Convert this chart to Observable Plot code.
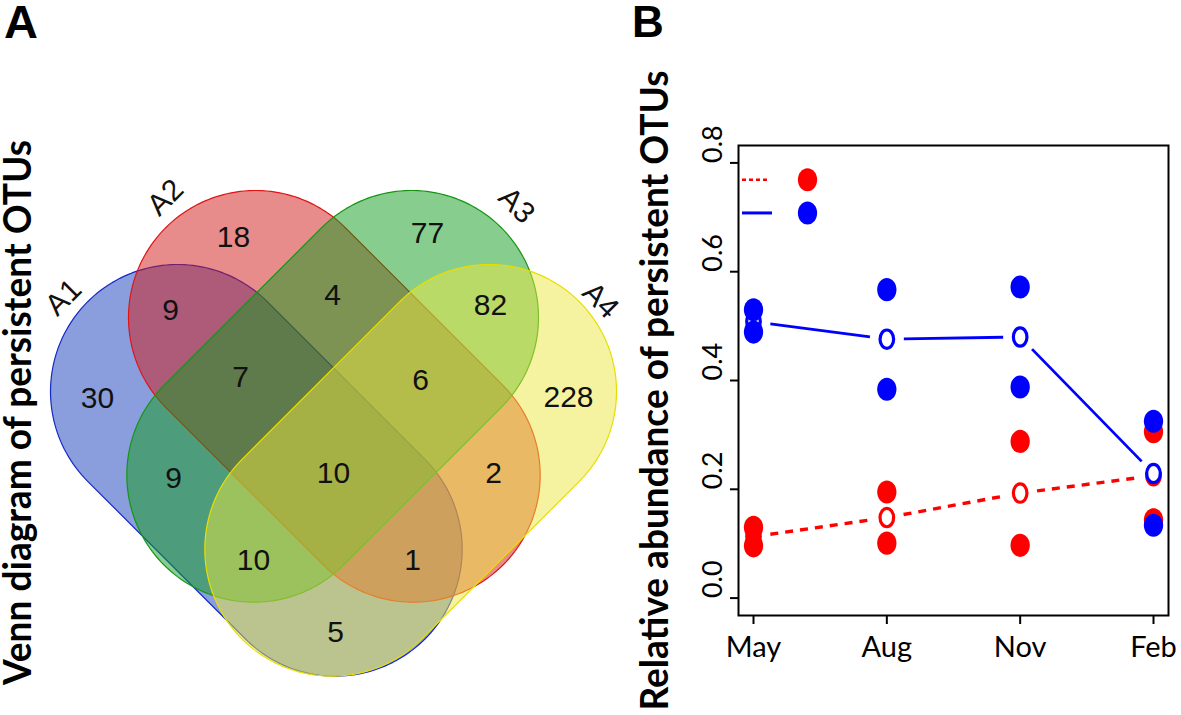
<!DOCTYPE html>
<html>
<head>
<meta charset="utf-8">
<script src="https://cdn.jsdelivr.net/npm/d3@7"></script>
<script src="https://cdn.jsdelivr.net/npm/@observablehq/plot@0.6"></script>
<style>
  body { margin: 0; background: #fff; }
  #fig { position: relative; width: 1181px; height: 715px; overflow: hidden; background: #fff; }
  .panel { position: absolute; top: 0; }
  .tag { position: absolute; font-family: "Liberation Sans", Arial, sans-serif; font-weight: bold; line-height: 1; color: #000; }
</style>
</head>
<body>
<div id="fig">
  <div class="panel" id="panelA" style="left:0px"></div>
  <div class="panel" id="panelB" style="left:620px"></div>
  <div class="tag" style="left:4px;top:-2px;font-size:47px">A</div>
  <div class="tag" style="left:632px;top:0px;font-size:44px">B</div>
</div>
<script>
// ---------------- Panel A data ----------------
const vennSets = ["A1", "A2", "A3", "A4"];
const regionCounts = [30, 18, 77, 228, 9, 7, 4, 82, 9, 10, 6, 2, 10, 1, 5];

// ---------------- Panel B data ----------------
const months = ["May", "Aug", "Nov", "Feb"];
const redValues = [[0.130, 0.096], [0.195, 0.101], [0.288, 0.097], [0.306, 0.144]];
const blueValues = [[0.530, 0.489], [0.567, 0.384], [0.572, 0.388], [0.325, 0.134]];
const redMeans = [0.113, 0.148, 0.193, 0.225];
const blueMeans = [0.508, 0.476, 0.480, 0.229];
const yTicks = [0, 0.2, 0.4, 0.6, 0.8];
const titleA = "Venn diagram of persistent OTUs";
const titleB = "Relative abundance of persistent OTUs";

// ---------------- Layout (diagram units) ----------------
const vennShapeLayout = [
  {cx: 177, cy: 391, angle: 45,  fill: "rgb(22,62,188)",  stroke: "rgb(20,40,200)"},
  {cx: 255, cy: 317, angle: 45,  fill: "rgb(210,24,24)",  stroke: "rgb(225,20,20)"},
  {cx: 411, cy: 317, angle: 135, fill: "rgb(16,156,28)",  stroke: "rgb(20,150,20)"},
  {cx: 489, cy: 391, angle: 135, fill: "rgb(236,231,64)", stroke: "rgb(232,222,0)"}
];
const vennRadius = 127, vennLength = 223;
const regionLabelXY = [[97,398],[233,237],[427,233],[568,397],[170,310],[240,377],[332,295],[490,305],[173,478],[333,473],[420,380],[493,473],[253,560],[412,560],[335,632]];
const setLabelXY = [[63,297,-45],[165,197,-45],[516,205,45],[600,300,45]];

function capsule(s) {
  const a = s.angle * Math.PI / 180;
  const ex = s.cx + vennLength * Math.cos(a), ey = s.cy + vennLength * Math.sin(a);
  const pts = [];
  const n = 90;
  for (let i = 0; i <= n; ++i) {
    const t = a + Math.PI / 2 + Math.PI * i / n;
    pts.push({x: s.cx + vennRadius * Math.cos(t), y: s.cy + vennRadius * Math.sin(t)});
  }
  for (let i = 0; i <= n; ++i) {
    const t = a - Math.PI / 2 + Math.PI * i / n;
    pts.push({x: ex + vennRadius * Math.cos(t), y: ey + vennRadius * Math.sin(t)});
  }
  pts.push(pts[0]);
  return pts;
}

const regionRows = regionCounts.map((c, i) => ({count: c, x: regionLabelXY[i][0], y: regionLabelXY[i][1]}));
const setRows = vennSets.map((s, i) => ({set: s, x: setLabelXY[i][0], y: setLabelXY[i][1], rot: setLabelXY[i][2]}));

const plotA = Plot.plot({
  width: 640, height: 715, margin: 0,
  style: {background: "none", overflow: "visible"},
  x: {domain: [0, 640], range: [0, 640], axis: null},
  y: {domain: [0, 715], range: [0, 715], axis: null},
  marks: [
    ...vennShapeLayout.map(s => Plot.line(capsule(s), {
      x: "x", y: "y", fill: s.fill, fillOpacity: 0.5, stroke: s.stroke, strokeWidth: 1.2
    })),
    Plot.text(regionRows, {x: "x", y: "y", text: d => String(d.count), fontSize: 30, fontFamily: "Liberation Sans", fill: "#111"}),
    Plot.text(setRows, {x: "x", y: "y", text: "set", rotate: "rot", fontSize: 30, fontFamily: "Liberation Sans", fill: "#111"}),
    Plot.text([titleA], {text: d => d, frameAnchor: "left", textAnchor: "start", dx: 18, dy: 327, rotate: -90, fontSize: 39, fontWeight: "bold", fontFamily: "Lato"})
  ]
});
document.getElementById("panelA").appendChild(plotA);

// ---------------- Panel B ----------------
function ellipseSymbol(ax, ay) {
  return {
    draw(ctx, size) {
      const r = Math.sqrt(size / Math.PI), rx = r * ax, ry = r * ay, k = 0.5523;
      ctx.moveTo(rx, 0);
      ctx.bezierCurveTo(rx, k * ry, k * rx, ry, 0, ry);
      ctx.bezierCurveTo(-k * rx, ry, -rx, k * ry, -rx, 0);
      ctx.bezierCurveTo(-rx, -k * ry, -k * rx, -ry, 0, -ry);
      ctx.bezierCurveTo(k * rx, -ry, rx, -k * ry, rx, 0);
      ctx.closePath();
    }
  };
}
const filledSym = ellipseSymbol(0.91, 1.09);
const openSym = ellipseSymbol(0.86, 1.16);

function pointsOf(vals) { return months.flatMap((m, i) => vals[i].map(v => ({month: m, value: v}))); }
function meansOf(ms) { return months.map((m, i) => ({month: m, value: ms[i]})); }
function segsOf(ms) { return months.slice(1).map((m, i) => ({x1: months[i], y1: ms[i], x2: m, y2: ms[i + 1]})); }

const legendRows = [{key: "red", y: 0.769, color: "red"}, {key: "blue", y: 0.708, color: "blue"}];

const series = [
  {color: "red", pts: pointsOf(redValues), means: meansOf(redMeans), segs: segsOf(redMeans), dash: "8,7", sw: 3.4},
  {color: "blue", pts: pointsOf(blueValues), means: meansOf(blueMeans), segs: segsOf(blueMeans), dash: null, sw: 2.8}
];

const plotB = Plot.plot({
  width: 561, height: 715,
  marginLeft: 118, marginRight: 13, marginTop: 145, marginBottom: 100,
  style: {background: "none", overflow: "visible", fontFamily: "Lato"},
  x: {type: "point", domain: months, padding: 0.1125, round: false, label: null},
  y: {domain: [-0.032, 0.832], label: null},
  marks: [
    Plot.axisX({tickSize: 9, tickPadding: 12, fontSize: 29, fontFamily: "Lato", strokeWidth: 2, label: null}),
    Plot.axisY({ticks: yTicks, tickSize: 8, tickFormat: () => "", strokeWidth: 2, label: null}),
    Plot.text(yTicks, {y: d => d, text: d => d.toFixed(1), frameAnchor: "left", dx: -25, rotate: -90, fontSize: 27, fontFamily: "Lato"}),
    ...series.flatMap(s => [
      Plot.arrow(s.segs, {x1: "x1", y1: "y1", x2: "x2", y2: "y2", headLength: 0, insetStart: 17, insetEnd: 17,
        stroke: s.color, strokeWidth: s.sw, strokeDasharray: s.dash, strokeLinecap: "butt"}),
      Plot.dot(s.means, {x: "month", y: "value", symbol: openSym, r: 7.9, fill: "white", stroke: s.color, strokeWidth: 3.2}),
      Plot.dot(s.pts, {x: "month", y: "value", symbol: filledSym, r: 10.6, fill: s.color, stroke: "none"})
    ]),
    Plot.ruleY(legendRows.slice(0, 1), {y: "y", insetLeft: 4, insetRight: 400, stroke: "red", strokeWidth: 2.4, strokeDasharray: "4,3"}),
    Plot.ruleY(legendRows.slice(1), {y: "y", insetLeft: 4, insetRight: 396, stroke: "blue", strokeWidth: 3}),
    Plot.dot(legendRows, {y: "y", frameAnchor: "left", dx: 69, symbol: filledSym, r: 10.6, fill: "color", stroke: "none"}),
    Plot.frame({strokeWidth: 2}),
    Plot.text([titleB], {text: d => d, frameAnchor: "left", textAnchor: "start", dx: -83, dy: 330, rotate: -90, fontSize: 39, fontWeight: "bold", fontFamily: "Lato"})
  ]
});
document.getElementById("panelB").appendChild(plotB);

// fit long rotated titles to their measured lengths
d3.selectAll("#fig svg text").filter(function () { return this.textContent === titleA; })
  .attr("textLength", 545).attr("lengthAdjust", "spacingAndGlyphs");
d3.selectAll("#fig svg text").filter(function () { return this.textContent === titleB; })
  .attr("textLength", 640).attr("lengthAdjust", "spacingAndGlyphs");
</script>
</body>
</html>
